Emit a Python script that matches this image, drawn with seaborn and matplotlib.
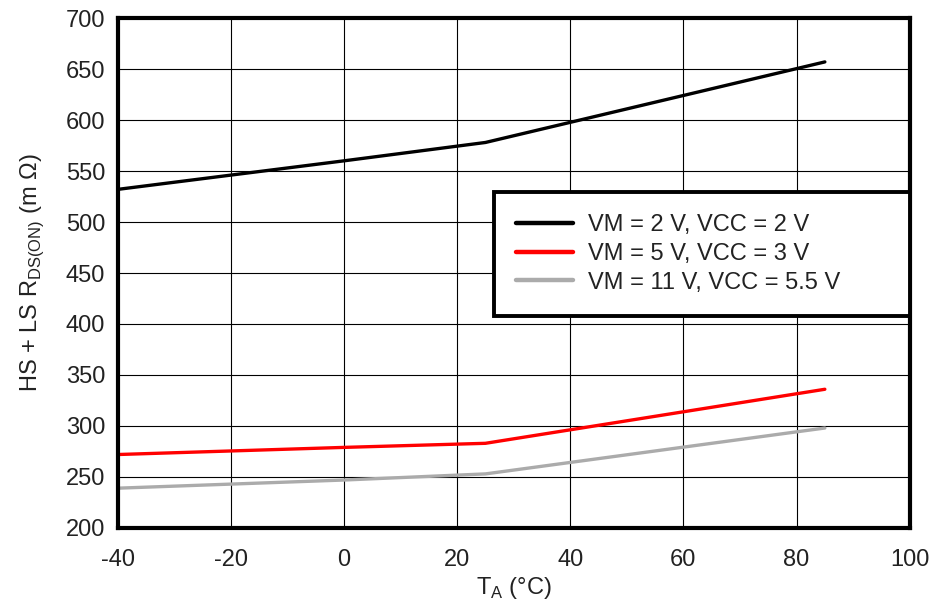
import pandas as pd
import matplotlib
matplotlib.use("Agg")
import matplotlib.pyplot as plt
import seaborn as sns

# values
temp_c = [-40, 0, 25, 85]
rds_2v = [532, 560, 578, 657]
rds_5v = [272, 279, 283, 336]
rds_11v = [239, 247, 253, 298]
labels = ["VM = 2 V, VCC = 2 V", "VM = 5 V, VCC = 3 V", "VM = 11 V, VCC = 5.5 V"]
colors = ["#000000", "#ff0000", "#ababab"]

rows = []
for lab, vals in zip(labels, [rds_2v, rds_5v, rds_11v]):
    for t, v in zip(temp_c, vals):
        rows.append({"T": t, "R": v, "cond": lab})
df = pd.DataFrame(rows)

sns.set_style("white")
plt.rcParams['font.family'] = ['Liberation Sans', 'DejaVu Sans']
plt.rcParams['mathtext.fontset'] = 'custom'
plt.rcParams['mathtext.rm'] = 'Liberation Sans'
plt.rcParams['axes.unicode_minus'] = False

fig = plt.figure(figsize=(9.34, 6.02), dpi=100)
ax = fig.add_axes([0.126, 0.123, 0.848, 0.847])

sns.lineplot(data=df, x="T", y="R", hue="cond", hue_order=labels,
             palette=colors, linewidth=2.4, ax=ax)

ax.set_xlim(-40, 100)
ax.set_ylim(200, 700)
ax.set_xticks(range(-40, 101, 20))
ax.set_yticks(range(200, 701, 50))
ax.grid(True, color="black", linewidth=0.8)
ax.set_axisbelow(True)
for s in ax.spines.values():
    s.set_linewidth(3)
    s.set_color("black")
ax.tick_params(labelsize=17, length=0, colors="#222222")
ax.tick_params(axis="x", pad=15)
ax.tick_params(axis="y", pad=9)

ax.set_xlabel(r"T$_\mathregular{A}$ (°C)", fontsize=17, color="#222222", labelpad=3)
ax.set_ylabel(r"HS + LS R$_\mathregular{DS(ON)}$ (m Ω)", fontsize=17, color="#222222", labelpad=14)

leg = ax.legend(loc="upper left", bbox_to_anchor=(0.475, 0.659, 0.525, 0.0),
                mode="expand", fontsize=17, frameon=True, fancybox=False,
                framealpha=1, borderpad=0.95, labelspacing=0.28, handlelength=2.4,
                handletextpad=0.65, borderaxespad=0)
leg.get_frame().set_edgecolor("black")
leg.get_frame().set_linewidth(2.8)
for line in leg.get_lines():
    line.set_linewidth(3.2)
for t in leg.get_texts():
    t.set_color("#222222")

fig.savefig("out.png", dpi=100)
